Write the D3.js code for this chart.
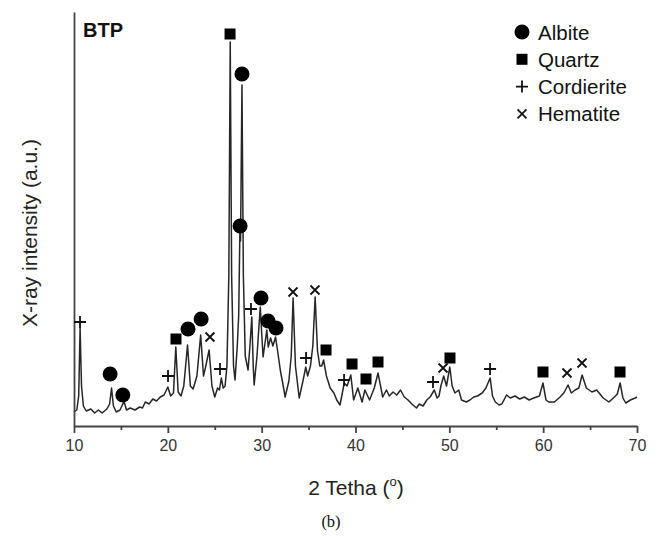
<!DOCTYPE html>
<html><head><meta charset="utf-8">
<script src="https://cdn.jsdelivr.net/npm/d3@7/dist/d3.min.js"></script>
<style>body{margin:0;background:#fff}svg{display:block}</style>
</head><body>
<svg id="chart" width="662" height="537"></svg>
<script>
// ---- Data ----
const twoTheta = [
10.0,10.3,10.5,10.65,10.8,11.0,11.3,11.8,12.2,12.6,13.0,13.5,13.8,14.0,14.2,14.5,14.9,15.2,15.35,15.6,
16.0,16.5,17.0,17.3,17.6,18.0,18.4,18.8,19.2,19.6,20.0,20.3,20.6,20.85,21.1,21.4,21.7,22.1,22.4,22.7,
23.1,23.5,23.8,24.0,24.4,24.7,25.0,25.3,25.5,25.7,25.9,26.1,26.3,26.5,26.65,26.8,27.0,27.16,27.4,27.55,
27.68,27.75,27.9,28.05,28.25,28.55,28.75,28.95,29.1,29.2,29.5,29.85,30.05,30.15,30.55,30.7,30.95,31.2,31.48,31.7,
32.0,32.3,32.5,32.9,33.15,33.35,33.6,34.0,34.4,34.7,34.9,35.2,35.45,35.7,35.95,36.2,36.4,36.6,36.9,37.3,
37.7,38.0,38.35,38.8,39.1,39.5,39.8,40.25,40.7,41.0,41.5,42.0,42.4,42.9,43.3,43.6,44.0,44.4,44.8,45.2,
45.6,46.0,46.5,46.8,47.2,47.6,47.95,48.4,48.7,48.9,49.1,49.4,49.7,50.05,50.3,50.6,51.0,51.3,51.8,52.2,
52.6,53.0,53.5,53.9,54.35,54.6,54.9,55.3,55.6,56.1,56.5,57.0,57.5,58.0,58.5,59.0,59.6,59.98,60.3,60.6,
61.2,61.8,62.2,62.65,63.0,63.4,63.8,64.15,64.6,65.2,65.7,66.4,67.0,67.6,67.9,68.2,68.5,68.8,69.3,69.8,70.0
];
const intensity = [
14,16,30,98,40,20,15,17,13,16,13,17,22,38,20,14,16,22,24,16,
18,16,19,18,24,22,27,25,29,31,39,30,33,79,34,30,40,81,40,37,
50,91,50,58,76,40,29,38,36,48,38,40,60,150,384,150,60,46,80,110,
195,185,341,150,70,56,80,109,60,41,70,119,85,69,96,79,88,80,89,75,
55,40,29,45,70,128,60,28,45,59,50,60,80,129,75,60,60,66,50,38,
33,26,21,43,40,51,26,38,24,36,26,38,53,29,36,30,34,31,36,29,
26,22,18,22,20,26,29,36,28,30,40,50,40,59,40,33,36,26,24,26,
29,30,33,38,48,30,24,21,22,31,28,30,27,29,26,28,30,43,26,24,
24,29,33,41,33,36,38,51,38,34,36,28,24,29,32,43,28,23,26,28,29
];
const albite     = [[13.85,52],[15.2,31],[22.15,97],[23.55,107],[27.9,352],[27.7,200],[29.93,128],[30.68,105],[31.53,98]];
const quartz     = [[26.63,392],[20.87,87],[36.86,76],[39.63,62],[41.12,47],[42.4,64],[50.07,68],[59.98,54],[68.19,54]];
const cordierite = [[10.64,104],[20.02,50],[25.56,57],[28.86,117],[34.73,68],[38.78,46],[48.26,44],[54.34,57]];
const hematite   = [[24.49,89],[33.34,134],[35.68,136],[49.33,58],[62.54,53],[64.14,63]];
const xMajorTicks = [10,20,30,40,50,60,70];
const xMinorTicks = [15,25,35,45,55,65];
const legendLabels = ["Albite","Quartz","Cordierite","Hematite"];

// ---- Layout ----
const svg = d3.select("#chart");
const L = 74, R = 637, T = 12, B = 426;
const x = d3.scaleLinear().domain([10,70]).range([L,R]);
const y = d3.scaleLinear().domain([0,414]).range([B,T]);
const font = "Arial, 'Liberation Sans', sans-serif";

// spectrum
const pts = twoTheta.map((t,i)=>[t,intensity[i]]);
svg.append("path").datum(pts)
  .attr("fill","none").attr("stroke","#262626").attr("stroke-width",1.5)
  .attr("stroke-linejoin","round")
  .attr("d", d3.line().x(d=>x(d[0])).y(d=>y(d[1])));

// axes
const gx = svg.append("g").attr("transform",`translate(0,${B})`)
  .call(d3.axisBottom(x).tickValues(xMajorTicks).tickSize(7).tickSizeOuter(0).tickFormat(d3.format("d")));
svg.append("g").attr("transform",`translate(0,${B})`)
  .call(d3.axisBottom(x).tickValues(xMinorTicks).tickSize(4).tickSizeOuter(0).tickFormat(""))
  .select(".domain").remove();
gx.selectAll("text").attr("font-family",font).attr("font-size",16).attr("fill","#333").attr("dy","0.95em");
const gy = svg.append("g").attr("transform",`translate(${L},0)`)
  .call(d3.axisLeft(y).tickValues([]).tickSizeOuter(0));
svg.selectAll(".domain, .tick line").attr("stroke","#444").attr("stroke-width",1.8);

// markers
function drawMarker(g, type, cx, cy){
  if(type===0){ g.append("circle").attr("cx",cx).attr("cy",cy).attr("r",7.5).attr("fill","#000"); }
  else if(type===1){ g.append("rect").attr("x",cx-5.5).attr("y",cy-5.5).attr("width",11).attr("height",11).attr("fill","#000"); }
  else if(type===2){ g.append("path").attr("d",`M${cx-6},${cy}H${cx+6}M${cx},${cy-6}V${cy+6}`).attr("stroke","#111").attr("stroke-width",1.8); }
  else { g.append("path").attr("d",`M${cx-4.5},${cy-4.5}L${cx+4.5},${cy+4.5}M${cx+4.5},${cy-4.5}L${cx-4.5},${cy+4.5}`).attr("stroke","#111").attr("stroke-width",1.8); }
}
const mg = svg.append("g");
[albite,quartz,cordierite,hematite].forEach((arr,k)=>arr.forEach(d=>drawMarker(mg,k,x(d[0]),y(d[1]))));

// legend
const lg = svg.append("g");
legendLabels.forEach((lab,i)=>{
  const cy = 32 + i*27.3;
  drawMarker(lg,i,522,cy);
  lg.append("text").attr("x",538).attr("y",cy+7.5).text(lab)
    .attr("font-family",font).attr("font-size",20.5).attr("fill","#111");
});

// texts
svg.append("text").attr("x",83).attr("y",37).text("BTP")
  .attr("font-family",font).attr("font-size",20).attr("font-weight","bold").attr("fill","#111");
const xt = svg.append("text").attr("x",356).attr("y",495).attr("text-anchor","middle")
  .attr("font-family",font).attr("font-size",21).attr("fill","#222");
xt.append("tspan").text("2 Tetha (");
xt.append("tspan").text("o").attr("font-size",13).attr("dy",-9);
xt.append("tspan").text(")").attr("dy",9);
svg.append("text").attr("transform","translate(37,233) rotate(-90)").attr("text-anchor","middle")
  .attr("font-family",font).attr("font-size",21).attr("fill","#222").text("X-ray intensity (a.u.)");
svg.append("text").attr("x",331).attr("y",527).attr("text-anchor","middle")
  .attr("font-family","'Liberation Serif', 'Times New Roman', serif").attr("font-size",16.5).attr("fill","#111").text("(b)");
</script>
</body></html>
